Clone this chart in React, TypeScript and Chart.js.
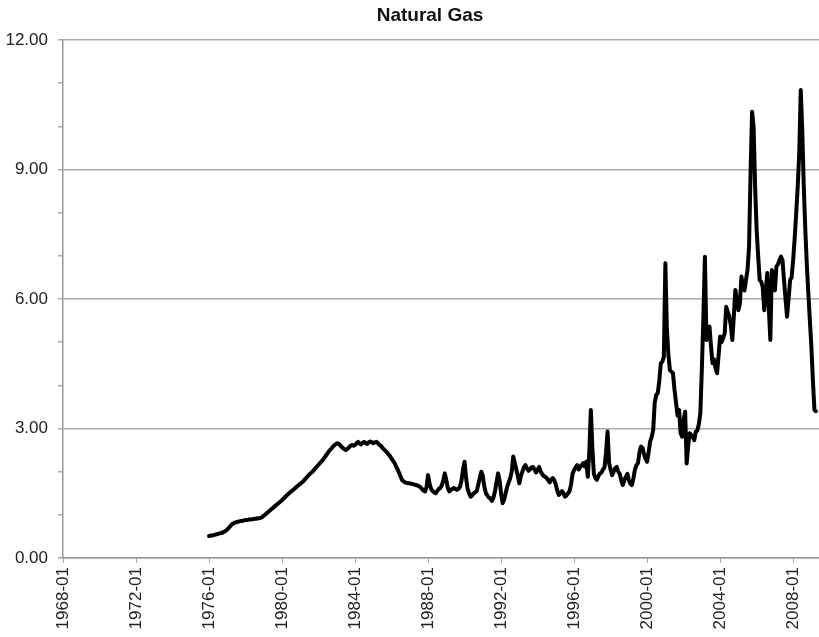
import React, { useEffect, useRef } from "react";
import { Chart, registerables } from "chart.js";

Chart.register(...registerables);

const chartTitle = "Natural Gas";
const axisStartYear = 1968;
const seriesStartYear = 1976;
const xTickStepMonths = 48;
const xAxisEndMonth = 497;
const yMin = 0;
const yMax = 12;
const yMajorStep = 3;

// Monthly prices, starting 1976-01
const prices: number[] = [
  // 1976
  0.51, 0.52, 0.52, 0.53, 0.54, 0.55, 0.56, 0.57, 0.58, 0.59, 0.61, 0.63,
  // 1977
  0.66, 0.70, 0.74, 0.78, 0.80, 0.82, 0.83, 0.84, 0.85, 0.86, 0.86, 0.87,
  // 1978
  0.88, 0.88, 0.89, 0.89, 0.90, 0.90, 0.91, 0.91, 0.92, 0.92, 0.93, 0.95,
  // 1979
  0.98, 1.01, 1.04, 1.07, 1.10, 1.13, 1.16, 1.19, 1.22, 1.25, 1.28, 1.31,
  // 1980
  1.34, 1.38, 1.41, 1.45, 1.48, 1.51, 1.54, 1.57, 1.60, 1.63, 1.66, 1.69,
  // 1981
  1.72, 1.75, 1.78, 1.82, 1.86, 1.90, 1.94, 1.97, 2.00, 2.04, 2.08, 2.12,
  // 1982
  2.16, 2.20, 2.24, 2.28, 2.33, 2.38, 2.43, 2.48, 2.52, 2.56, 2.60, 2.63,
  // 1983
  2.66, 2.65, 2.62, 2.58, 2.55, 2.52, 2.50, 2.53, 2.56, 2.60, 2.62, 2.60,
  // 1984
  2.62, 2.66, 2.69, 2.65, 2.63, 2.67, 2.69, 2.66, 2.64, 2.68, 2.70, 2.68,
  // 1985
  2.66, 2.68, 2.69, 2.66, 2.62, 2.60, 2.55, 2.52, 2.48, 2.45, 2.40, 2.36,
  // 1986
  2.30, 2.25, 2.20, 2.12, 2.05, 1.97, 1.88, 1.80, 1.77, 1.75, 1.74, 1.73,
  // 1987
  1.73, 1.72, 1.71, 1.70, 1.69, 1.68, 1.66, 1.64, 1.60, 1.56, 1.54, 1.65,
  // 1988
  1.92, 1.72, 1.60, 1.55, 1.52, 1.50, 1.55, 1.60, 1.62, 1.68, 1.80, 1.96,
  // 1989
  1.80, 1.62, 1.54, 1.58, 1.60, 1.62, 1.60, 1.58, 1.60, 1.65, 1.80, 2.05,
  // 1990
  2.23, 1.85, 1.60, 1.50, 1.42, 1.45, 1.50, 1.52, 1.55, 1.70, 1.85, 2.00,
  // 1991
  1.90, 1.65, 1.50, 1.45, 1.40, 1.38, 1.32, 1.40, 1.55, 1.75, 1.96, 1.80,
  // 1992
  1.50, 1.27, 1.35, 1.50, 1.65, 1.75, 1.85, 2.00, 2.35, 2.20, 2.05, 1.90,
  // 1993
  1.73, 1.90, 2.00, 2.10, 2.15, 2.08, 2.02, 2.05, 2.10, 2.11, 2.05, 1.98,
  // 1994
  2.05, 2.11, 2.00, 1.95, 1.90, 1.88, 1.85, 1.80, 1.75, 1.82, 1.85, 1.80,
  // 1995
  1.70, 1.55, 1.46, 1.50, 1.55, 1.50, 1.42, 1.45, 1.50, 1.55, 1.70, 1.95,
  // 1996
  2.04, 2.10, 2.15, 2.05, 2.11, 2.15, 2.20, 2.12, 2.23, 1.88, 2.45, 3.43,
  // 1997
  2.55, 1.95, 1.85, 1.81, 1.90, 1.96, 1.98, 2.05, 2.10, 2.45, 2.93, 2.20,
  // 1998
  2.05, 1.92, 2.00, 2.08, 2.11, 2.00, 1.95, 1.80, 1.69, 1.80, 1.88, 1.95,
  // 1999
  1.80, 1.72, 1.69, 1.85, 2.05, 2.15, 2.20, 2.45, 2.58, 2.55, 2.40, 2.30,
  // 2000
  2.23, 2.45, 2.70, 2.80, 2.97, 3.60, 3.78, 3.82, 4.10, 4.51, 4.55, 4.66,
  // 2001
  6.83, 5.30, 4.70, 4.35, 4.32, 4.28, 3.90, 3.60, 3.30, 3.43, 2.90, 2.81,
  // 2002
  3.20, 3.39, 2.19, 2.60, 2.89, 2.85, 2.80, 2.73, 2.93, 2.95, 3.10, 3.35,
  // 2003
  4.40, 5.60, 6.98, 5.05, 5.20, 5.36, 4.90, 4.51, 4.60, 4.40, 4.28, 4.70,
  // 2004
  5.13, 5.00, 5.10, 5.20, 5.82, 5.70, 5.60, 5.40, 5.05, 5.60, 6.21, 6.00,
  // 2005
  5.74, 5.90, 6.52, 6.30, 6.20, 6.44, 6.67, 7.20, 8.90, 10.34, 10.00, 8.60,
  // 2006
  7.60, 7.00, 6.44, 6.40, 6.28, 5.74, 6.20, 6.60, 5.80, 5.05, 6.67, 6.50,
  // 2007
  6.20, 6.75, 6.80, 6.90, 6.98, 6.90, 6.44, 6.00, 5.59, 6.00, 6.44, 6.50,
  // 2008
  6.90, 7.40, 7.98, 8.60, 9.37, 10.84, 9.90, 8.60, 7.60, 6.80, 6.13, 5.50,
  // 2009
  4.89, 4.10, 3.43, 3.40,
];

const FONT = '"Liberation Sans", Arial, Helvetica, sans-serif';

function monthLabel(offset: number): string {
  const total = axisStartYear * 12 + Math.round(offset);
  const y = Math.floor(total / 12);
  const m = (total % 12) + 1;
  return `${y}-${String(m).padStart(2, "0")}`;
}

export default function App() {
  const canvasRef = useRef<HTMLCanvasElement | null>(null);

  useEffect(() => {
    if (!canvasRef.current) return;
    const startOffset = (seriesStartYear - axisStartYear) * 12;
    const points = prices.map((v, i) => ({ x: startOffset + i, y: v }));

    const titlePlugin = {
      id: "customTitle",
      beforeDraw(chart: any) {
        const ctx = chart.ctx;
        ctx.save();
        ctx.fillStyle = "#ffffff";
        ctx.fillRect(0, 0, chart.width, chart.height);
        ctx.restore();
      },
      afterDraw(chart: any) {
        const ctx = chart.ctx;
        ctx.save();
        ctx.font = `bold 19px ${FONT}`;
        ctx.fillStyle = "#111";
        ctx.textAlign = "center";
        ctx.textBaseline = "alphabetic";
        ctx.fillText(chartTitle, 430, 21);
        ctx.restore();
      },
    };

    const chart = new Chart(canvasRef.current, {
      type: "line",
      data: {
        datasets: [
          {
            label: chartTitle,
            data: points,
            borderColor: "#000",
            borderWidth: 4,
            pointRadius: 0,
            tension: 0,
            fill: false,
            borderJoinStyle: "round",
            borderCapStyle: "round",
          },
        ],
      },
      options: {
        responsive: false,
        animation: false,
        layout: { padding: { top: 40, left: 0, right: 0, bottom: 0 } },
        plugins: {
          legend: { display: false },
          title: { display: false },
          tooltip: { enabled: false },
        },
        scales: {
          x: {
            type: "linear",
            min: 0,
            max: xAxisEndMonth,
            afterBuildTicks: (scale: any) => {
              scale.ticks = scale.ticks.filter(
                (t: any) => t.value % xTickStepMonths === 0
              );
            },
            afterFit: (scale: any) => {
              scale.height = 79;
            },
            ticks: {
              stepSize: xTickStepMonths,
              autoSkip: false,
              minRotation: 90,
              maxRotation: 90,
              padding: 4,
              color: "#222",
              font: { family: FONT, size: 17 },
              callback: (v: any) => monthLabel(Number(v)),
            },
            grid: {
              drawOnChartArea: false,
              drawTicks: true,
              tickLength: 5,
              tickColor: "#aaa",
            },
            border: { display: true, color: "#999", width: 1.5 },
          },
          y: {
            min: yMin,
            max: yMax,
            afterFit: (scale: any) => {
              scale.width = 63;
            },
            ticks: {
              stepSize: 1,
              padding: 10,
              color: "#222",
              font: { family: FONT, size: 17 },
              callback: (v: any) =>
                Number(v) % yMajorStep === 0 ? Number(v).toFixed(2) : "",
            },
            grid: {
              color: (ctx: any) =>
                ctx.tick && ctx.tick.value % yMajorStep === 0
                  ? "#aaa"
                  : "rgba(0,0,0,0)",
              lineWidth: 1.5,
              tickLength: 5,
              tickColor: "#aaa",
            },
            border: { display: true, color: "#999", width: 1.5 },
          },
        },
      },
      plugins: [titlePlugin],
    });

    return () => {
      chart.destroy();
    };
  }, []);

  return (
    <div
      style={{
        position: "fixed",
        left: 0,
        top: 0,
        width: 819,
        height: 637,
        background: "#fff",
      }}
    >
      <canvas
        ref={canvasRef}
        width={819}
        height={637}
        style={{ display: "block" }}
      />
    </div>
  );
}
